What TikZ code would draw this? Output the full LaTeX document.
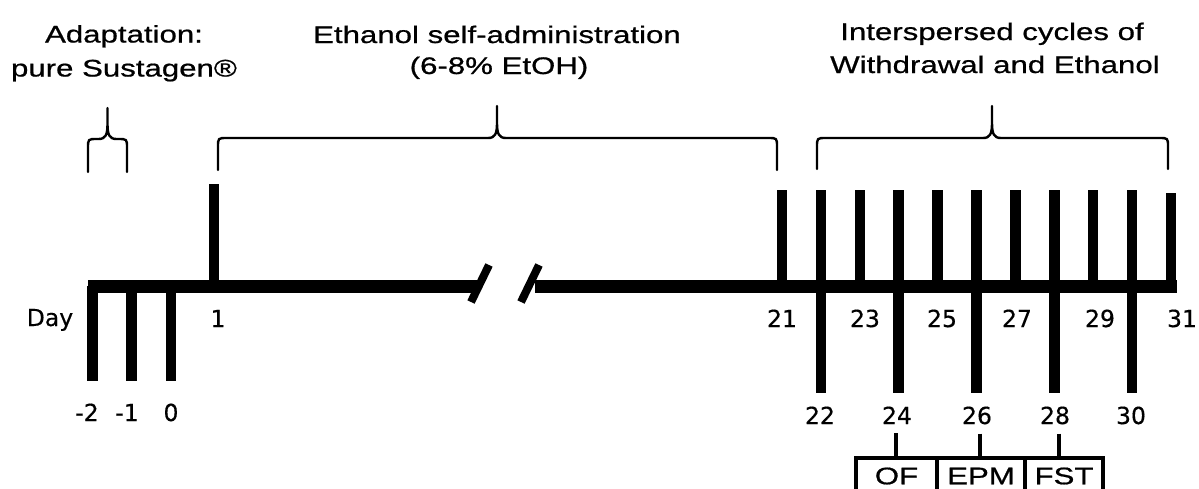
\documentclass[tikz,border=0pt]{standalone}
\usepackage{fontspec}
\setmainfont[FakeBold=0.4]{DejaVu Sans}
\newfontfamily\headfont[FakeStretch=1.3,FakeBold=0.7]{Liberation Sans}
\usetikzlibrary{calc}

\tikzset{
  axisline/.style={line width=13pt},
  tickline/.style={line width=10.5pt},
  slashline/.style={line width=8pt},
  bracepath/.style={line width=2.4pt, line join=round, line cap=round},
  daylbl/.style={font=\fontsize{23.5}{23.5}\selectfont, inner sep=0pt, anchor=base},
  headlbl/.style={font=\headfont\fontsize{24}{28}\selectfont, inner sep=0pt, anchor=base},
  testcell/.style={draw, line width=4pt, anchor=north west, outer sep=0pt,
    minimum height=36pt, inner sep=0pt,
    font=\headfont\fontsize{24}{28}\selectfont},
  conn/.style={line width=3.5pt}
}

% curly bracket: left x, right x, tip x, bar y, tip y, foot y
\newcommand\drawbrace[6]{%
  \draw[bracepath] (#1,#6) -- (#1,{#4+9})
    .. controls (#1,#4) .. ({#1+9},#4) -- ({#3-9},#4)
    .. controls ({#3-2},#4) and (#3,{#4-4}) .. (#3,{#4-15}) -- (#3,#5)
    -- (#3,{#4-15})
    .. controls (#3,{#4-4}) and ({#3+2},#4) .. ({#3+9},#4) -- ({#2-9},#4)
    .. controls (#2,#4) .. (#2,{#4+9}) -- (#2,#6);}

\begin{document}
\begin{tikzpicture}[x=1pt,y=-1pt]
\useasboundingbox (0,0) rectangle (1199,488);
\clip (0,0) rectangle (1199,488);

% headings
\node[headlbl] (adA) at (124,42.5) {Adaptation:};
\node[headlbl] (adB) at (124,76.5) {pure Sustagen®};
\node[headlbl] (etA) at (497,43) {Ethanol self-administration};
\node[headlbl] (etB) at (499,74) {(6-8\% EtOH)};
\node[headlbl] (wiA) at (992,40) {Interspersed cycles of};
\node[headlbl] (wiB) at (995,73) {Withdrawal and Ethanol};

% brackets under the headings
\drawbrace{88}{127}{107.5}{139}{108}{172}
\drawbrace{218}{777}{497}{138}{106}{170}
\drawbrace{817}{1168}{992}{138}{106}{169}

% time axis, broken between day 1 and day 21
\draw[axisline] (88,286.5) coordinate (axL) -- (477,286.5) coordinate (brL);
\draw[axisline] (535,286.5) coordinate (brR) -- (1177,286.5) coordinate (axR);
\draw[slashline] (471,302) -- (489,265);
\draw[slashline] (521,302) -- (539,265);

% adaptation days, below the axis
\foreach \x/\n in {92.5/m2,131.5/m1,171/z0}
  \draw[tickline] (\x,286) coordinate (t\n) -- (\x,381);
% day 1, above the axis
\draw[tickline] (214,286) coordinate (t1) -- (214,184);

% days 21-31: every day above, even days also below
\foreach \d in {21,...,31}{
  \pgfmathsetmacro\xx{782+(\d-21)*38.9}
  \coordinate (t\d) at (\xx,286);
  \ifnum\d=31
    \draw[tickline] (t\d) -- (\xx,193);
  \else
    \draw[tickline] (t\d) -- (\xx,190);
  \fi
}
\foreach \d in {22,24,...,30}{
  \pgfmathsetmacro\xx{782+(\d-21)*38.9}
  \draw[tickline] (\xx,280) -- (\xx,393);
}

% day labels
\node[daylbl] (day) at (50,326) {Day};
\node[daylbl] (n1) at (218,327) {1};
\foreach \d/\x in {21/782,23/865,25/942,27/1017,29/1100,31/1182}
  \node[daylbl] (n\d) at (\x,327) {\d};
\foreach \d/\x in {22/820,24/897,26/977,28/1055,30/1131}
  \node[daylbl] (n\d) at (\x,424) {\d};
\node[daylbl] (nm2) at (87,421) {-2};
\node[daylbl] (nm1) at (127,421) {-1};
\node[daylbl] (nz0) at (171,421) {0};

% behavioural tests
\node[testcell, minimum width=81pt] (of) at (856,458) {OF};
\node[testcell, minimum width=88pt] (epm) at (937,458) {EPM};
\node[testcell, minimum width=78pt] (fst) at (1025,458) {FST};

\draw[conn] ($(n24.south)+(-1,9)$) coordinate (c24) -- (c24 |- of.north);
\draw[conn] ($(n26.south)+(3,9)$) coordinate (c26) -- (c26 |- epm.north);
\draw[conn] ($(n28.south)+(4,9)$) coordinate (c28) -- (c28 |- fst.north);
\end{tikzpicture}
\end{document}
